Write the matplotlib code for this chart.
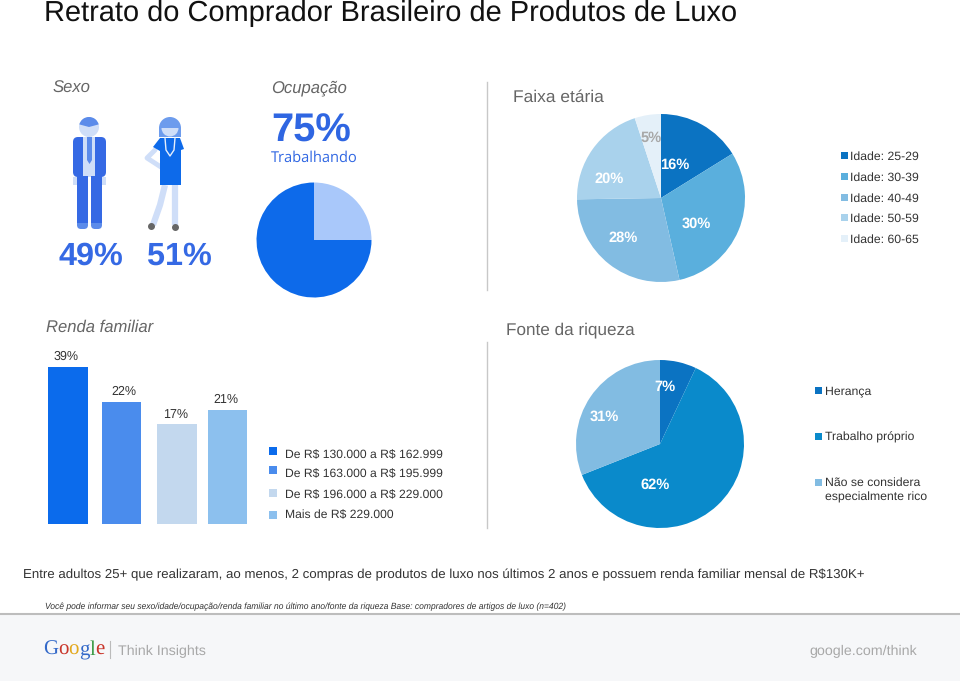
import matplotlib
matplotlib.use("Agg")
import matplotlib.pyplot as plt
from matplotlib.patches import Circle, FancyBboxPatch, Polygon, Rectangle, Wedge

plt.rcParams['font.family'] = ['Liberation Sans', 'DejaVu Sans']
plt.rcParams['text.hinting'] = 'no_hinting'
plt.rcParams['text.parse_math'] = False

W, H = 960, 681

# dados
occupation_values = [75, 25]
age_labels = ['Idade: 25-29', 'Idade: 30-39', 'Idade: 40-49', 'Idade: 50-59', 'Idade: 60-65']
age_values = [16, 30, 28, 20, 5]
income_labels = ['De R$ 130.000 a R$ 162.999', 'De R$ 163.000 a R$ 195.999',
                 'De R$ 196.000 a R$ 229.000', 'Mais de R$ 229.000']
income_values = [39, 22, 17, 21]
income_bar_heights = [157, 122, 100, 114]  # altura desenhada, nao proporcional ao rotulo
wealth_labels = ['Herança', 'Trabalho próprio', 'Não se considera\nespecialmente rico']
wealth_values = [7, 62, 31]

age_colors = ['#0b73c2', '#5aafdd', '#82bce2', '#a9d2ec', '#e4f0f9']
age_text_colors = ['#ffffff', '#ffffff', '#ffffff', '#ffffff', '#a8a8a8']
income_colors = ['#0b6bec', '#4a8ced', '#c3d8ee', '#8cc0ee']
wealth_colors = ['#0b73c2', '#0a8acb', '#82bce2']
occ_colors = ['#0d6aea', '#a9c8fa']

fig = plt.figure(figsize=(W / 100, H / 100), dpi=100)
ax = fig.add_axes([0, 0, 1, 1])
ax.set_xlim(0, W)
ax.set_ylim(H, 0)
ax.axis('off')
ax.set_zorder(10)


def pie_at(cx, cy, r, values, colors, start=90):
    a = fig.add_axes([(cx - r) / W, 1 - (cy + r) / H, 2 * r / W, 2 * r / H])
    a.pie(values, colors=colors, startangle=start, counterclock=False, radius=1.0,
          wedgeprops={'linewidth': 0})
    a.set_xlim(-1, 1)
    a.set_ylim(-1, 1)
    return a


def txt(x, y, s, size=9, color='#333333', **kw):
    kw.setdefault('va', 'center')
    ax.text(x, y, s, fontsize=size, color=color, **kw)


def round_box(x, y, w, h, color, rad=4, z=2):
    ax.add_patch(FancyBboxPatch((x + rad, y + rad), w - 2 * rad, h - 2 * rad,
                                boxstyle=f'round,pad={rad}', fc=color, ec='none', zorder=z))


# titulo
txt(44, 13, 'Retrato do Comprador Brasileiro de Produtos de Luxo', size=20.92, color='#111111')

# cabecalhos das secoes
txt(53, 88, 'Sexo', size=12, color='#666666', style='italic')
txt(271, 88, 'Ocupação', size=12, color='#666666', style='italic')
txt(513, 97, 'Faixa etária', size=12.5, color='#666666')
txt(46, 327, 'Renda familiar', size=12, color='#666666', style='italic')
txt(506, 330, 'Fonte da riqueza', size=12.3, color='#666666')

# homem (eixo y invertido: angulos 180-360 ficam na metade de cima)
man, skin = '#3569e4', '#cfdef8'
ax.add_patch(Circle((89, 127), 10, fc=skin, ec='none', zorder=2))
ax.add_patch(Wedge((89, 127), 10, 195, 345, fc='#5b8bea', ec='none', zorder=3))
round_box(73, 137, 33, 40, man, rad=5)
ax.add_patch(Rectangle((83, 137), 12, 40, fc=skin, ec='none', zorder=3))
ax.add_patch(Polygon([[87, 137], [92, 137], [92, 160], [89.5, 164], [87, 160]], fc='#5b8bea', ec='none', zorder=4))
ax.add_patch(Rectangle((73, 177), 4, 8, fc=skin, ec='none', zorder=2))
ax.add_patch(Rectangle((102, 177), 4, 8, fc=skin, ec='none', zorder=2))
round_box(77, 176, 11, 53, '#5b8bea', rad=4)
round_box(91, 176, 11, 53, '#5b8bea', rad=4)
ax.add_patch(Rectangle((77, 176), 11, 47, fc=man, ec='none', zorder=3))
ax.add_patch(Rectangle((91, 176), 11, 47, fc=man, ec='none', zorder=3))

# mulher
woman = '#0d6aea'
ax.add_patch(Wedge((170, 128), 11, 180, 360, fc='#6d9ced', ec='none', zorder=3))
ax.add_patch(Rectangle((159, 128), 22, 9, fc='#6d9ced', ec='none', zorder=2))
ax.add_patch(Wedge((170, 128), 8.5, 0, 180, fc=skin, ec='none', zorder=3))
ax.add_patch(Polygon([[160, 138], [180, 138], [184, 149], [181, 150], [181, 185], [160, 185],
                      [160, 151], [153, 147]], fc=woman, ec='none', zorder=3))
ax.plot([155, 147, 164], [150, 158, 169], color=skin, lw=3.5, zorder=2, solid_capstyle='round')
ax.plot([165, 160, 153], [185, 205, 225], color=skin, lw=4.5, zorder=2, solid_capstyle='butt')
ax.plot([175, 175], [185, 225], color=skin, lw=4.5, zorder=2, solid_capstyle='butt')
ax.plot([151], [226], 'o', color='#666666', ms=4, zorder=3)
ax.plot([175], [227], 'o', color='#666666', ms=4, zorder=3)
ax.plot([165, 166, 170, 174, 175], [138, 150, 156, 150, 138], color='#e4eefc', lw=1, zorder=4)

txt(59, 256, '49%', size=23.3, color=man, fontweight='bold')
txt(147, 256, '51%', size=23.3, color=man, fontweight='bold')

# ocupacao
txt(271, 131, '75%', size=28.7, color='#2f66e2', fontweight='bold')
txt(271, 158, 'Trabalhando', size=10.5, color='#2f66e2', family=['Open Sans', 'DejaVu Sans'])
pie_at(314, 240, 57.5, occupation_values, occ_colors, start=0)

# divisores
ax.plot([487, 487], [82, 290], color='#c8c8c8', lw=1)
ax.plot([487, 487], [342, 528], color='#c8c8c8', lw=1)

# faixa etaria
pie_at(661, 198, 84, age_values, age_colors)
age_text_pos = [(675, 165), (696, 224), (623, 238), (609, 179), (651, 138)]
for (x, y), v, c in zip(age_text_pos, age_values, age_text_colors):
    ax.text(x, y, f'{v}%', fontsize=10.5, color=c, fontweight='bold', ha='center', va='center', zorder=5)
for label, c, y in zip(age_labels, age_colors, [156, 177, 198, 218, 239]):
    ax.add_patch(Rectangle((841, y - 4), 7, 7, fc=c, ec='none'))
    txt(850, y + 1, label, size=8.8)

# renda familiar
bar_lefts = [48, 102, 157, 208]
bar_widths = [40, 39, 40, 39]
bar_base = 524
ax.bar(bar_lefts, [-h for h in income_bar_heights], width=bar_widths, bottom=bar_base,
       align='edge', color=income_colors, linewidth=0)
income_text_pos = [(66, 357), (124, 392), (176, 415), (226, 400)]
for (x, y), v in zip(income_text_pos, income_values):
    ax.text(x, y, f'{v}%', fontsize=9, color='#333333', ha='center', va='center')
for label, c, ys, yt in zip(income_labels, income_colors, [451, 470, 493, 515], [455, 474, 495, 515]):
    ax.add_patch(Rectangle((269, ys - 4), 8, 8, fc=c, ec='none'))
    txt(285, yt, label, size=8.7)

# fonte da riqueza
pie_at(660, 444, 84, wealth_values, wealth_colors)
wealth_text_pos = [(665, 387), (655, 485), (604, 417)]
for (x, y), v in zip(wealth_text_pos, wealth_values):
    ax.text(x, y, f'{v}%', fontsize=10.5, color='#ffffff', fontweight='bold', ha='center', va='center', zorder=5)
for label, c, ys, yt in zip(wealth_labels, wealth_colors, [391, 437, 483], [391, 437, 490]):
    ax.add_patch(Rectangle((815, ys - 4), 7, 7, fc=c, ec='none'))
    txt(825, yt, label, size=8.8, linespacing=1.35)

# notas
txt(23, 575, 'Entre adultos 25+ que realizaram, ao menos, 2 compras de produtos de luxo nos últimos 2 anos '
    'e possuem renda familiar mensal de R$130K+', size=9.58)
txt(45, 607, 'Você pode informar seu sexo/idade/ocupação/renda familiar no último ano/fonte da riqueza '
    'Base: compradores de artigos de luxo (n=402)', size=6.15, style='italic')

# rodape
ax.add_patch(Rectangle((0, 614), W, 67, fc='#f6f7f9', ec='none', zorder=0))
ax.plot([0, W], [613.5, 613.5], color='#bdbdbd', lw=1.5)
x = 43
renderer = fig.canvas.get_renderer()
for ch, c in zip('Google', ['#3369c9', '#c9352a', '#e3a81c', '#3369c9', '#3a9a44', '#c9352a']):
    t = ax.text(x, 650, ch, fontsize=15, color=c, family=['Liberation Serif'], va='center')
    x = t.get_window_extent(renderer).x1
ax.plot([110, 110], [641, 658], color='#bbbbbb', lw=0.8)
txt(118, 651, 'Think Insights', size=10.3, color='#a8a8a8')
txt(809, 651, 'google.com/think', size=10.3, color='#a8a8a8')

fig.savefig('out.png', dpi=100)
